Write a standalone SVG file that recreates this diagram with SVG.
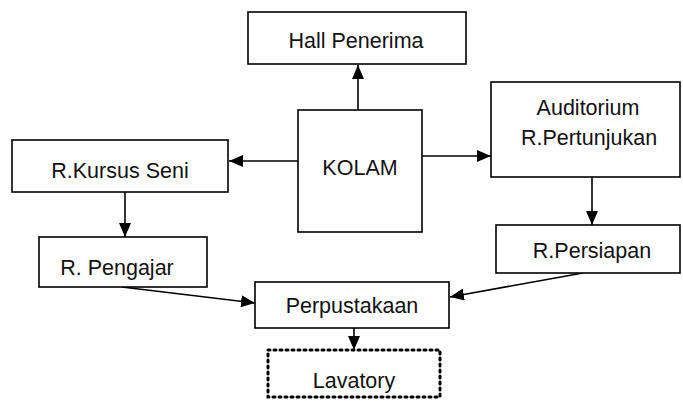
<svg xmlns="http://www.w3.org/2000/svg" width="683" height="401" viewBox="0 0 683 401">
  <style>
    .box { fill: #fff; stroke: #000; stroke-width: 1.6; }
    .dotted { fill: #fff; stroke: #000; stroke-width: 3; stroke-dasharray: 2 4; stroke-linecap: round; }
    .lbl { font-family: "Liberation Sans", Arial, sans-serif; font-size: 21.5px; fill: #111; text-anchor: middle; }
    .edge { fill: none; stroke: #000; stroke-width: 1.6; marker-end: url(#arrow); }
  </style>
  <defs>
    <marker id="arrow" viewBox="0 0 14 12" refX="14" refY="6" markerWidth="14" markerHeight="12" markerUnits="userSpaceOnUse" orient="auto">
      <path d="M0,0 L14,6 L0,12 Z" fill="#000"/>
    </marker>
  </defs>

  <g id="connectors">
    <line class="edge" x1="358" y1="110" x2="358" y2="65"/>
    <line class="edge" x1="298" y1="161" x2="229" y2="161"/>
    <line class="edge" x1="422" y1="156" x2="491" y2="156"/>
    <line class="edge" x1="125" y1="192" x2="125" y2="237"/>
    <line class="edge" x1="592" y1="177" x2="592" y2="225"/>
    <line class="edge" x1="122" y1="287" x2="255" y2="303"/>
    <line class="edge" x1="583" y1="273" x2="450" y2="297"/>
    <line class="edge" x1="354" y1="328" x2="354" y2="350"/>
  </g>

  <g id="hall-penerima">
    <rect class="box" x="248" y="12" width="218" height="52"/>
    <text class="lbl" x="356" y="48">Hall Penerima</text>
  </g>

  <g id="kolam">
    <rect class="box" x="298" y="110" width="124" height="122"/>
    <text class="lbl" x="360" y="175">KOLAM</text>
  </g>

  <g id="auditorium">
    <rect class="box" x="491" y="82" width="189" height="95"/>
    <text class="lbl" x="588" y="115">Auditorium</text>
    <text class="lbl" x="589" y="145">R.Pertunjukan</text>
  </g>

  <g id="r-kursus-seni">
    <rect class="box" x="12" y="140" width="216" height="52"/>
    <text class="lbl" x="120" y="178">R.Kursus Seni</text>
  </g>

  <g id="r-pengajar">
    <rect class="box" x="39" y="237" width="168" height="50"/>
    <text class="lbl" x="117" y="275">R. Pengajar</text>
  </g>

  <g id="r-persiapan">
    <rect class="box" x="496" y="225" width="184" height="48"/>
    <text class="lbl" x="592" y="258">R.Persiapan</text>
  </g>

  <g id="perpustakaan">
    <rect class="box" x="255" y="282" width="194" height="46"/>
    <text class="lbl" x="352" y="313">Perpustakaan</text>
  </g>

  <g id="lavatory">
    <rect class="dotted" x="268" y="350" width="172" height="47"/>
    <text class="lbl" x="354" y="388">Lavatory</text>
  </g>
</svg>
